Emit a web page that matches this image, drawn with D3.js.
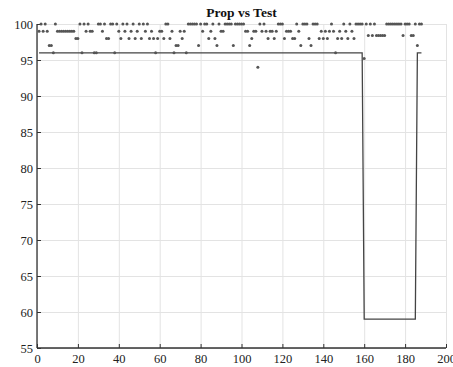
<!DOCTYPE html>
<html>
<head>
<meta charset="utf-8">
<script src="https://cdn.jsdelivr.net/npm/d3@7"></script>
<style>
html,body{margin:0;padding:0;background:#fff;}
svg{display:block;}
text{font-family:"Liberation Serif","DejaVu Serif",serif;}
</style>
</head>
<body>
<div id="chart"></div>
<script>
const title = "Prop vs Test";
const xTicks = [0,20,40,60,80,100,120,140,160,180,200];
const yTicks = [55,60,65,70,75,80,85,90,95,100];

// "Prop" line: x index and value
const propX = [1, 159, 160, 185, 186, 188];
const propY = [96, 96, 59, 59, 96, 96];

// "Test" values for x = 1..188
const testY = [
 99,100,99,100,99,97,97,96,100,99, 99,99,99,99,99,99,99,99,98,98,
 100,96,100,99,100,99,99,96,96,100, 100,99,100,98,98,100,100,96,100,99,
 98,100,99,100,98,99,100,98,99,100, 98,100,99,100,98,99,98,96,98,99,
 99,98,100,100,98,99,96,97,97,99, 98,99,96,100,100,100,100,100,97,100,
 99,100,100,98,99,100,98,97,100,99, 99,100,100,100,100,97,100,100,100,100,
 100,99,99,97,98,99,99,94,100,99, 100,99,98,99,99,98,99,100,100,100,
 98,99,99,99,98,98,100,99,97,100, 100,100,98,97,100,100,100,98,99,98,
 99,98,99,100,99,96,98,99,98,100, 99,98,100,99,98,100,100,100,100,95.2,
 100,98.4,100,98.4,100,98.4,98.4,98.4,98.4,98.4, 100,100,100,100,100,100,100,100,98.4,100,
 100,100,98.4,98.4,100,97,100,100
];
const testX = testY.map((d,i)=>i+1);

const W = 453, H = 367;
const m = {left:37, right:7, top:24, bottom:19};
const svg = d3.select("#chart").append("svg").attr("width",W).attr("height",H);

const x = d3.scaleLinear().domain([0,200]).range([m.left, W-m.right]);
const y = d3.scaleLinear().domain([55,100]).range([H-m.bottom, m.top]);

// grid
const g = svg.append("g");
g.selectAll(".vg").data(xTicks).join("line")
 .attr("x1",d=>x(d)+0.5).attr("x2",d=>x(d)+0.5)
 .attr("y1",y(55)).attr("y2",y(100))
 .attr("stroke","#e3e3e3").attr("stroke-width",1);
g.selectAll(".hg").data(yTicks).join("line")
 .attr("y1",d=>Math.round(y(d))+0.5).attr("y2",d=>Math.round(y(d))+0.5)
 .attr("x1",x(0)).attr("x2",x(200))
 .attr("stroke","#e3e3e3").attr("stroke-width",1);

// axes
const xAxis = d3.axisBottom(x).tickValues(xTicks).tickSize(-4).tickPadding(6).tickFormat(d3.format("d"));
const yAxis = d3.axisLeft(y).tickValues(yTicks).tickSize(-4).tickPadding(4).tickFormat(d3.format("d"));
const gx = svg.append("g").attr("transform",`translate(0,${y(55)})`).call(xAxis);
const gy = svg.append("g").attr("transform",`translate(${x(0)},0)`).call(yAxis);
[gx,gy].forEach(a=>{
  a.select(".domain").attr("stroke","#333").attr("stroke-width",1.3);
  a.selectAll(".tick line").attr("stroke","#333");
  a.selectAll(".tick text").attr("fill","#222").style("font-size","12.5px").style("font-family","'Liberation Serif',serif");
});
gy.select(".domain").attr("d",`M0,${y(55)}V${y(100)}`);
gx.select(".domain").attr("d",`M${x(0)},0H${x(200)}`);

// Prop line
const line = d3.line().x((d,i)=>x(propX[i])).y(d=>y(d));
svg.append("path").datum(propY).attr("d",line)
 .attr("fill","none").attr("stroke","#444").attr("stroke-width",1.3);

// Test points
svg.append("g").selectAll("circle").data(testY).join("circle")
 .attr("cx",(d,i)=>x(testX[i])).attr("cy",d=>y(d)).attr("r",1.5)
 .attr("fill","#555");

// title
svg.append("text").attr("x",(x(0)+x(200))/2).attr("y",17)
 .attr("text-anchor","middle").style("font-weight","bold").style("font-size","13.5px")
 .attr("fill","#111").text(title);
</script>
</body>
</html>
